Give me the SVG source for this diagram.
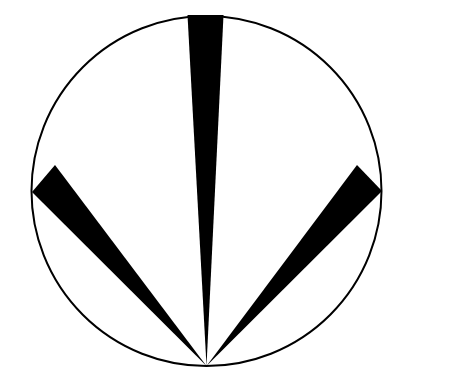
<svg xmlns="http://www.w3.org/2000/svg" width="461" height="380" viewBox="0 0 461 380">
<style>.w{fill:#000;stroke:none}</style>
<rect width="461" height="380" fill="#fff"/>
<circle cx="206.5" cy="191" r="175" fill="none" stroke="#000" stroke-width="2"/>
<g id="wedges">
<polygon class="w" points="206.5,366 187.5,15 223.5,15"/>
<polygon class="w" points="206.5,366 32,192 55,165"/>
<polygon class="w" points="206.5,366 382,191 357,165"/>
</g>
</svg>
